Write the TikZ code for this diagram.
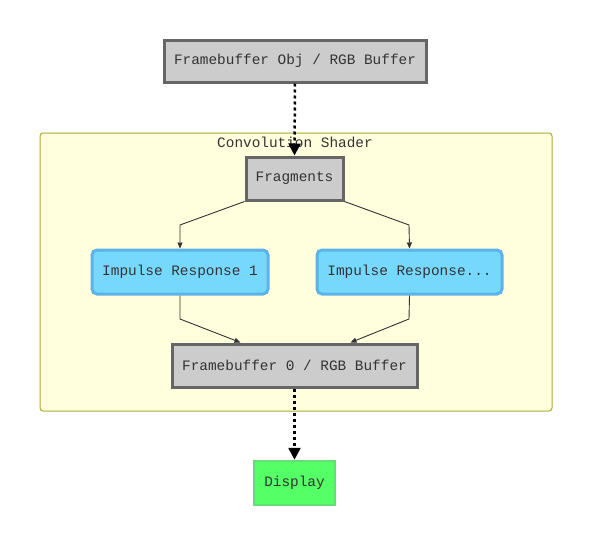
\documentclass[tikz,border=0pt]{standalone}
\usepackage{fontspec}
\setmainfont{Liberation Mono}
\usepackage{xcolor}
\usetikzlibrary{arrows.meta}
\definecolor{boxgray}{HTML}{CCCCCC}
\definecolor{boxline}{HTML}{666666}
\definecolor{clusterfill}{HTML}{FFFFDE}
\definecolor{clusterline}{HTML}{AAAA33}
\definecolor{irfill}{HTML}{77D8FD}
\definecolor{irline}{HTML}{5BB3E9}
\definecolor{dispfill}{HTML}{55FF66}
\definecolor{displine}{HTML}{66DD77}
\definecolor{txt}{HTML}{333333}
\begin{document}
\begin{tikzpicture}[x=1pt, y=-1pt,
    every node/.style = {shape=rectangle, align=center, text=txt,
      font=\fontsize{14.4}{17}\selectfont, inner sep=0pt},
    buffer/.style = {draw=boxline, fill=boxgray, line width=3pt},
    impulse/.style = {draw=irline, fill=irfill, line width=3pt, rounded corners=5pt},
    screen/.style = {draw=displine, fill=dispfill, line width=2.5pt},
    flow/.style = {draw=txt, line width=0.9pt, -{Triangle[length=6pt,width=5pt]}},
    pass/.style = {black, line width=2.5pt, dash pattern=on 3pt off 3pt,
      -{Triangle[length=12pt,width=12pt]}}]
    \useasboundingbox (0,0) rectangle (600,538);
    \draw[fill=clusterfill, draw=clusterline, line width=1pt, rounded corners=3pt]
      (40,133) rectangle (552,411);
    \node (shader) at (295,142) {Convolution Shader};
    \node[buffer, minimum width=262pt, minimum height=42pt] (fbo) at (295,61)
      {Framebuffer Obj / RGB Buffer};
    \node[buffer, minimum width=97pt, minimum height=43pt] (frag) at (294.5,178.5)
      {Fragments};
    \node[impulse, minimum width=176pt, minimum height=44pt] (irone) at (180,272)
      {Impulse Response 1};
    \node[impulse, minimum width=185pt, minimum height=44pt] (irdots) at (409.5,272)
      {Impulse Response...};
    \node[buffer, minimum width=245pt, minimum height=43pt] (fbzero) at (294.5,365.5)
      {Framebuffer 0 / RGB Buffer};
    \node[screen, minimum width=81pt, minimum height=44pt] (disp) at (294.5,483)
      {Display};
    \coordinate (k1) at (180,225);
    \coordinate (k2) at (409,225);
    \coordinate (k3) at (180,319);
    \coordinate (k4) at (409,319);
    \draw[pass] (fbo.south) -- (frag.north);
    \draw[flow] (frag.south west) -- (k1) -- (irone.north);
    \draw[flow] (frag.south east) -- (k2) -- (irdots.north);
    \draw[flow] (irone.south) -- (k3) -- ([xshift=-54pt]fbzero.north);
    \draw[flow] (irdots.south) -- (k4) -- ([xshift=56pt]fbzero.north);
    \draw[pass] (fbzero.south) -- (disp.north);
\end{tikzpicture}
\end{document}
